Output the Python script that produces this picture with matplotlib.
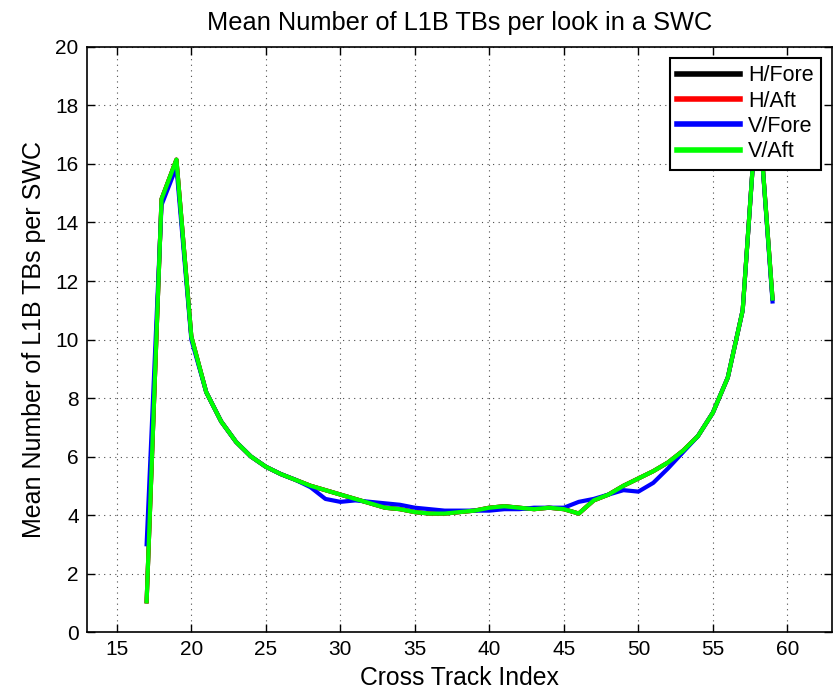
import matplotlib
matplotlib.use("Agg")
import matplotlib.pyplot as plt
import numpy as np

plt.rcParams["font.family"] = ["Liberation Sans", "DejaVu Sans"]

x_index = list(range(17, 60))

v_aft = [1.05, 14.8, 16.15, 10.1, 8.2, 7.2, 6.5, 6.0, 5.65, 5.4,
         5.2, 5.0, 4.85, 4.7, 4.55, 4.4, 4.25, 4.2, 4.1, 4.05,
         4.05, 4.1, 4.15, 4.25, 4.3, 4.25, 4.2, 4.25, 4.2, 4.05,
         4.5, 4.7, 5.0, 5.25, 5.5, 5.8, 6.2, 6.7, 7.5, 8.7,
         11.0, 18.3, 11.4]
v_fore = [3.0, 14.6, 15.9, 10.0, 8.2, 7.2, 6.5, 6.0, 5.65, 5.4,
          5.2, 4.95, 4.55, 4.45, 4.5, 4.45, 4.4, 4.35, 4.25, 4.2,
          4.15, 4.15, 4.15, 4.15, 4.2, 4.2, 4.25, 4.25, 4.25, 4.45,
          4.55, 4.7, 4.85, 4.8, 5.1, 5.6, 6.15, 6.7, 7.5, 8.7,
          11.0, 18.3, 11.3]
h_fore = v_aft
h_aft = v_aft

fig = plt.figure(figsize=(8.4, 6.95), dpi=100)
ax = fig.add_axes([0.1036, 0.0906, 0.887, 0.8418])

ax.plot(x_index, h_fore, color="black", lw=3, label="H/Fore")
ax.plot(x_index, h_aft, color="red", lw=3, label="H/Aft")
ax.plot(x_index, v_fore, color="blue", lw=3, label="V/Fore")
ax.plot(x_index, v_aft, color="#00ff00", lw=3, label="V/Aft")

ax.set_xlim(13, 63)
ax.set_ylim(0, 20)
ax.set_xticks(range(15, 61, 5))
ax.set_yticks(range(0, 21, 2))
ax.tick_params(direction="in", top=True, right=True, labelsize=15, length=6, width=1, pad=6)
ax.grid(True, color="black", linestyle=(0, (1, 4)), linewidth=0.8, alpha=0.7)
for s in ax.spines.values():
    s.set_linewidth(1.2)

ax.set_title("Mean Number of L1B TBs per look in a SWC", fontsize=18.3, pad=12)
ax.set_xlabel("Cross Track Index", fontsize=17.8, labelpad=5)
ax.set_ylabel("Mean Number of L1B TBs per SWC", fontsize=18, labelpad=7)

leg = ax.legend(loc="upper right", fontsize=15.5, fancybox=False, framealpha=1,
                edgecolor="black", handlelength=2.9, handletextpad=0.4,
                borderaxespad=0.5, labelspacing=0.2, borderpad=0.35)
leg.get_frame().set_linewidth(1.5)
for line in leg.get_lines():
    line.set_linewidth(4)

fig.savefig("out.png", dpi=100)
